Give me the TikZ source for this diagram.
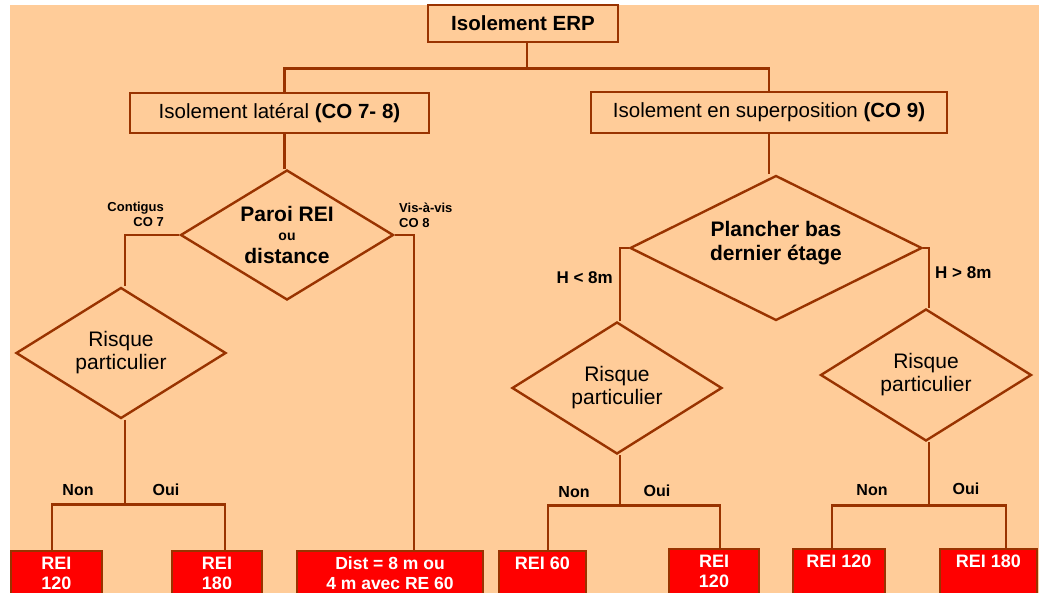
\documentclass[tikz,border=0pt]{standalone}
\usepackage{fontspec}
\setmainfont{Liberation Sans}
\usetikzlibrary{shapes.geometric,calc}
\definecolor{brd}{RGB}{153,51,0}
\definecolor{bgc}{RGB}{255,204,153}
\definecolor{rfill}{RGB}{255,0,0}
\begin{document}
\begin{tikzpicture}[x=1pt,y=-1pt,
  conn/.style={draw=brd, line width=2.6pt},
  titlebox/.style={draw=brd, line width=2.6pt, rectangle, inner sep=0, font=\fontsize{20.5}{24}\selectfont},
  dec/.style={draw=brd, line width=2.4pt, diamond, inner sep=0, align=center},
  redbox/.style={draw=brd, fill=rfill, line width=2pt, rectangle, inner sep=0, minimum height=64, anchor=north west},
  redtxt/.style={anchor=north, text=white, font=\bfseries\fontsize{18}{20}\selectfont, align=center, inner sep=0, yshift=-6.5},
  lab/.style={font=\bfseries\fontsize{16}{18}\selectfont, inner sep=0},
  small/.style={font=\bfseries\fontsize{13}{15}\selectfont, inner sep=0},
  hlab/.style={font=\bfseries\fontsize{17}{19}\selectfont, inner sep=0},
]
\clip (0,0) rectangle (1039,593);
\fill[white] (0,0) rectangle (1039,593);
\fill[bgc] (10,5) rectangle (1039,593);

% title boxes
\node[titlebox, minimum width=190, minimum height=37, font=\bfseries\fontsize{20.5}{24}\selectfont] (erp) at (523,23.5) {Isolement ERP};
\node[titlebox, minimum width=299, minimum height=40] (lat) at (279.5,113) {Isolement latéral \textbf{(CO 7- 8)}};
\node[titlebox, minimum width=356, minimum height=41] (sup) at (769,112.5) {Isolement en superposition \textbf{(CO 9)}};

% decisions
\node[dec, minimum width=213, minimum height=130, shape aspect=1.64, font=\bfseries\fontsize{21}{21}\selectfont] (pd) at (287,235) {Paroi REI\\[-2pt]{\fontsize{14}{14}\selectfont ou}\\[2pt]distance};
\node[dec, minimum width=210, minimum height=131, shape aspect=1.6, font=\fontsize{21}{23}\selectfont] (rp1) at (121,353) {Risque\\particulier};
\node[dec, minimum width=292, minimum height=145, shape aspect=2, font=\bfseries\fontsize{21}{24}\selectfont, text depth=14pt] (pb) at (776,248) {Plancher bas\\dernier étage};
\node[dec, minimum width=210, minimum height=132, shape aspect=1.6, font=\fontsize{21}{23}\selectfont] (rp3) at (617,388) {Risque\\particulier};
\node[dec, minimum width=211, minimum height=132, shape aspect=1.6, font=\fontsize{21}{23}\selectfont] (rp4) at (926,375) {Risque\\particulier};

% result boxes
\node[redbox, minimum width=91, label={[redtxt]north:{REI\\120}}] (r1) at (10,550) {};
\node[redbox, minimum width=90, label={[redtxt]north:{REI\\180}}] (r2) at (171,550) {};
\node[redbox, minimum width=186, label={[redtxt, font=\bfseries\fontsize{17.5}{20}\selectfont]north:{Dist = 8 m ou\\4 m avec RE 60}}] (dist) at (296,550) {};
\node[redbox, minimum width=87, label={[redtxt]north:{REI 60}}] (r3) at (498,550) {};
\node[redbox, minimum width=90, label={[redtxt]north:{REI\\120}}] (r4) at (668,548) {};
\node[redbox, minimum width=92, label={[redtxt]north:{REI 120}}] (r5) at (792,548) {};
\node[redbox, minimum width=97, label={[redtxt]north:{REI 180}}] (r6) at (939,548) {};

% connectors
\draw[conn] ([xshift=4]erp.south) -- ++(0,25) coordinate (j0);
\draw[conn] ([xshift=5]lat.north) |- (j0) -| (sup.north);
\draw[conn] ([xshift=5]lat.south) -- ([xshift=5]lat.south |- pd.north);
\draw[conn] (pd.west) -| ([xshift=4]rp1.north);
\draw[conn] (pd.east) -| ([xshift=24]dist.north);
\draw[conn] ([xshift=4]rp1.south) -- ++(0,85) coordinate (j1);
\draw[conn] ([xshift=-4.5]r1.north) |- (j1) -| ([xshift=8]r2.north);

\draw[conn] (sup.south) -- (sup.south |- pb.north);
\draw[conn] (pb.west) -| ([xshift=3]rp3.north);
\draw[conn] (pb.east) -| ([xshift=3]rp4.north);
\draw[conn] ([xshift=3]rp3.south) -- ++(0,50) coordinate (j2);
\draw[conn] ([xshift=5.5]r3.north) |- (j2) -| ([xshift=6]r4.north);
\draw[conn] ([xshift=3]rp4.south) -- ++(0,63) coordinate (j3);
\draw[conn] ([xshift=-7]r5.north) |- (j3) -| ([xshift=17.5]r6.north);

% labels
\node[small, anchor=east, align=right] (lc) at (164,214.5) {Contigus\\CO 7};
\node[small, anchor=west, align=left] (lv) at (399,215.5) {Vis-à-vis\\CO 8};
\node[lab] (n1) at (78,490) {Non};
\node[lab] (o1) at (166,490) {Oui};
\node[lab] (n2) at (574,492) {Non};
\node[lab] (o2) at (657,491) {Oui};
\node[lab] (n3) at (872,490) {Non};
\node[lab] (o3) at (966,489) {Oui};
\node[hlab, anchor=east] (hl) at (613,278) {H < 8m};
\node[hlab, anchor=west] (hr) at (935,273) {H > 8m};
\end{tikzpicture}
\end{document}
